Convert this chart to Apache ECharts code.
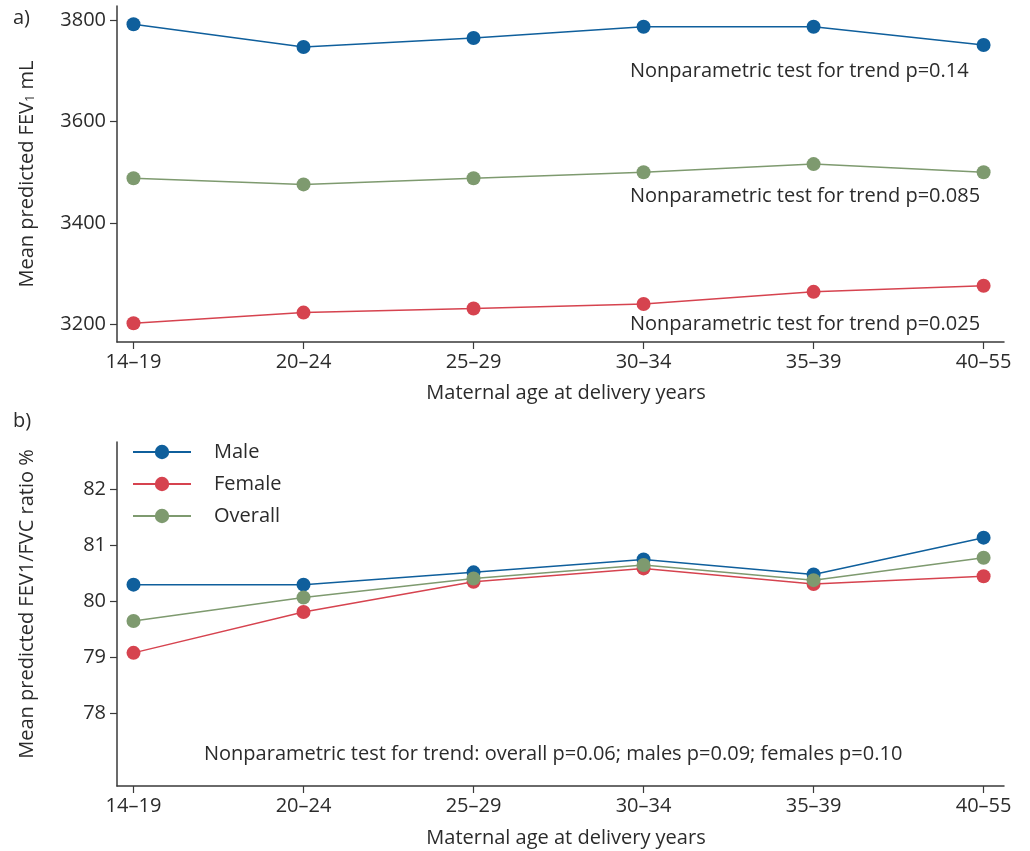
<!DOCTYPE html>
<html>
<head>
<meta charset="utf-8">
<script src="https://cdn.jsdelivr.net/npm/echarts@6/dist/echarts.min.js"></script>
<style>
  html, body { margin: 0; padding: 0; background: #fff; }
  #chart { width: 1030px; height: 851px; }
</style>
</head>
<body>
<div id="chart"></div>
<script>
// Maternal age groups at delivery
const ageGroups = ['14–19', '20–24', '25–29', '30–34', '35–39', '40–55'];

// a) Mean predicted FEV1 (mL)
const fev1Male    = [3792, 3747, 3765, 3787, 3787, 3751];
const fev1Female  = [3202, 3223, 3231, 3240, 3264, 3276];
const fev1Overall = [3488, 3476, 3488, 3500, 3516, 3500];
const fev1Ticks   = [3200, 3400, 3600, 3800];

// b) Mean predicted FEV1/FVC ratio (%)
const ratioMale    = [80.30, 80.30, 80.52, 80.75, 80.48, 81.14];
const ratioFemale  = [79.08, 79.81, 80.35, 80.59, 80.31, 80.45];
const ratioOverall = [79.65, 80.07, 80.41, 80.65, 80.38, 80.78];
const ratioTicks   = [78, 79, 80, 81, 82];

const seriesNames = ['Male', 'Female', 'Overall'];
const colors = { Male: '#0f5f9c', Female: '#d6434f', Overall: '#7e9a6f' };

const FONT = '"Open Sans"';
const FS = 20;
const TEXT = '#2b2b2b';
const AXIS = '#3a3a3a';
const idx = ageGroups.map((_, i) => i);

function xAxis(gridIndex) {
  return {
    type: 'value', gridIndex, min: -0.097, max: 5.12,
    splitLine: { show: false },
    axisLine: { onZero: false, lineStyle: { color: AXIS, width: 1.5 } },
    axisTick: { customValues: idx, length: 7, lineStyle: { color: AXIS, width: 1.2 } },
    axisLabel: {
      customValues: idx, formatter: v => ageGroups[Math.round(v)],
      color: TEXT, fontFamily: FONT, fontSize: FS, margin: 10
    }
  };
}
function yAxis(gridIndex, min, max, ticks) {
  return {
    type: 'value', gridIndex, min, max,
    splitLine: { show: false },
    axisLine: { show: true, onZero: false, lineStyle: { color: AXIS, width: 1.5 } },
    axisTick: { show: true, customValues: ticks, length: 7, lineStyle: { color: AXIS, width: 1.2 } },
    axisLabel: {
      customValues: ticks, formatter: v => String(v),
      color: TEXT, fontFamily: FONT, fontSize: FS, margin: 11
    }
  };
}
function line(name, values, gi) {
  return {
    type: 'line', name, xAxisIndex: gi, yAxisIndex: gi,
    data: values.map((v, i) => [i, v]),
    symbol: 'circle', symbolSize: 14,
    itemStyle: { color: colors[name] },
    lineStyle: { color: colors[name], width: 1.5 },
    animation: false, z: name === 'Overall' ? 4 : (name === 'Female' ? 3 : 2)
  };
}
function label(text, x, y, align) {
  return {
    type: 'text', x, y,
    style: {
      text, fill: TEXT, font: FS + 'px ' + FONT,
      textAlign: align || 'left', textVerticalAlign: 'middle'
    }
  };
}

const chart = echarts.init(document.getElementById('chart'), null, { renderer: 'canvas' });
chart.setOption({
  backgroundColor: '#fff',
  animation: false,
  grid: [
    { left: 117, right: 26, top: 6, height: 336 },
    { left: 117, right: 26, top: 442, height: 344 }
  ],
  xAxis: [xAxis(0), xAxis(1)],
  yAxis: [yAxis(0, 3165, 3828, fev1Ticks), yAxis(1, 76.7, 82.85, ratioTicks)],
  legend: {
    data: seriesNames, orient: 'vertical', left: 127, top: 437,
    itemWidth: 58, itemHeight: 18, itemGap: 12,
    textStyle: { color: TEXT, fontFamily: FONT, fontSize: FS, padding: [0, 0, 0, 18] },
    selectedMode: false
  },
  series: [
    line('Male', fev1Male, 0), line('Female', fev1Female, 0), line('Overall', fev1Overall, 0),
    line('Male', ratioMale, 1), line('Female', ratioFemale, 1), line('Overall', ratioOverall, 1)
  ],
  graphic: [
    label('a)', 13, 18),
    label('b)', 13, 421),
    label('Nonparametric test for trend p=0.14', 630, 71),
    label('Nonparametric test for trend p=0.085', 630, 196),
    label('Nonparametric test for trend p=0.025', 630, 324),
    label('Nonparametric test for trend: overall p=0.06; males p=0.09; females p=0.10', 204, 754),
    label('Maternal age at delivery years', 566, 393, 'center'),
    label('Maternal age at delivery years', 566, 838, 'center'),
    {
      type: 'text', x: 27, y: 174, rotation: Math.PI / 2,
      style: {
        text: '{n|Mean predicted FEV}{s|1}{n| mL}',
        align: 'center', verticalAlign: 'middle',
        rich: {
          n: { fill: TEXT, font: FS + 'px ' + FONT },
          s: { fill: TEXT, font: '13px ' + FONT, padding: [6, 0, 0, 0] }
        }
      }
    },
    {
      type: 'text', x: 27, y: 604, rotation: Math.PI / 2,
      style: {
        text: 'Mean predicted FEV1/FVC ratio %', fill: TEXT, font: FS + 'px ' + FONT,
        textAlign: 'center', textVerticalAlign: 'middle'
      }
    }
  ]
});
</script>
</body>
</html>
